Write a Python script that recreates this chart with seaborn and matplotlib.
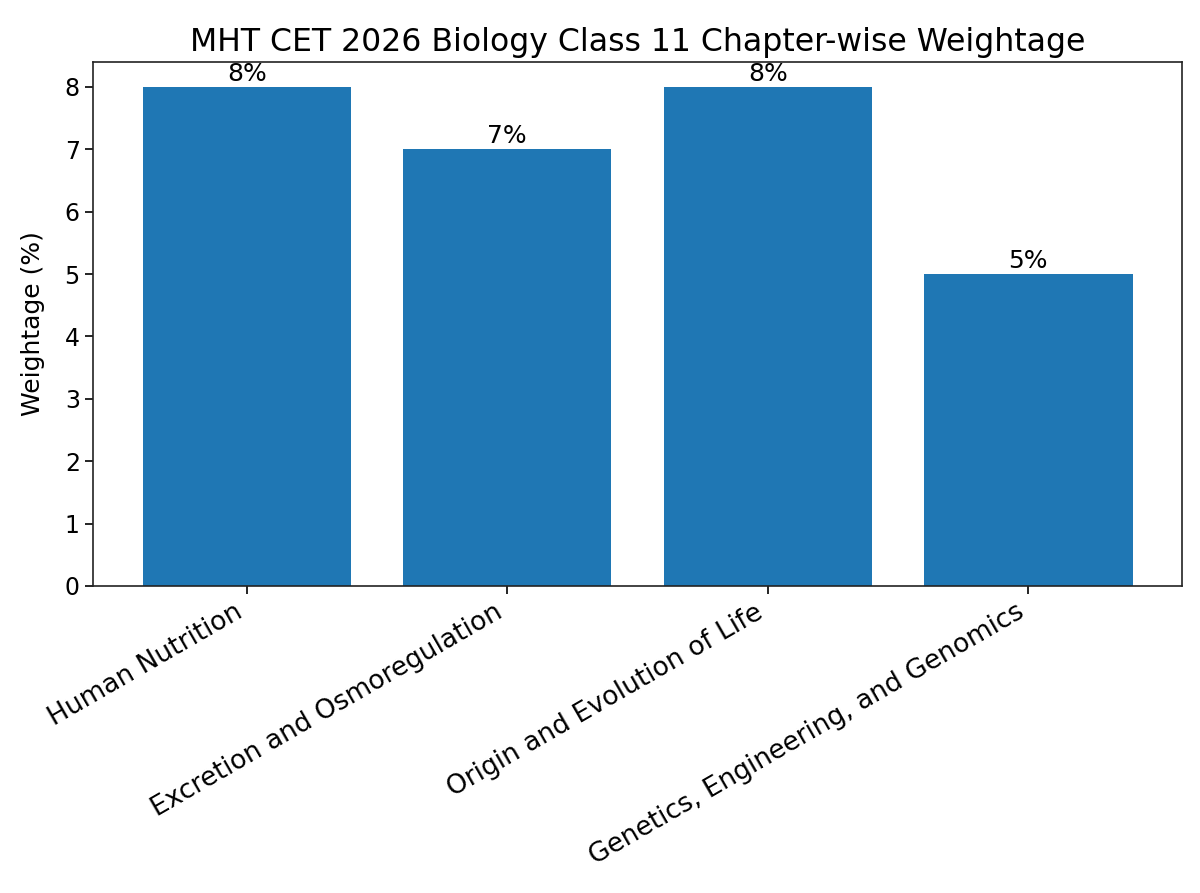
import matplotlib
matplotlib.use("Agg")
import matplotlib.pyplot as plt
import seaborn as sns
import pandas as pd

chapters = ["Human Nutrition", "Excretion and Osmoregulation",
            "Origin and Evolution of Life", "Genetics, Engineering, and Genomics"]
weightage = [8, 7, 8, 5]

plt.rcParams['font.family'] = ['DejaVu Sans']

df = pd.DataFrame({"Chapter": chapters, "Weightage": weightage})

fig = plt.figure(figsize=(12, 8.93), dpi=100)
ax = fig.add_axes([0.0775, 0.3438, 0.985 - 0.0775, 0.9306 - 0.3438])
sns.barplot(data=df, x="Chapter", y="Weightage", color="#1f77b4", saturation=1,
            width=0.8, ax=ax, errorbar=None)
for c in ax.containers:
    ax.bar_label(c, labels=[f"{v}%" for v in weightage], fontsize=18, padding=1)
ax.set_xlim(-0.59, 3.59)
ax.set_ylim(0, 8.4)
ax.set_title("MHT CET 2026 Biology Class 11 Chapter-wise Weightage", fontsize=22.7, pad=8)
ax.set_ylabel("Weightage (%)", fontsize=18, labelpad=14)
ax.set_xlabel("")
ax.tick_params(axis='y', labelsize=17, length=6, width=1.2)
ax.tick_params(axis='x', labelsize=19, length=6, width=1.2)
plt.setp(ax.get_xticklabels(), rotation=30, ha='right', rotation_mode='default')
for s in ax.spines.values():
    s.set_linewidth(1.2)
    s.set_color('#222222')
fig.savefig("out.png", dpi=100)
